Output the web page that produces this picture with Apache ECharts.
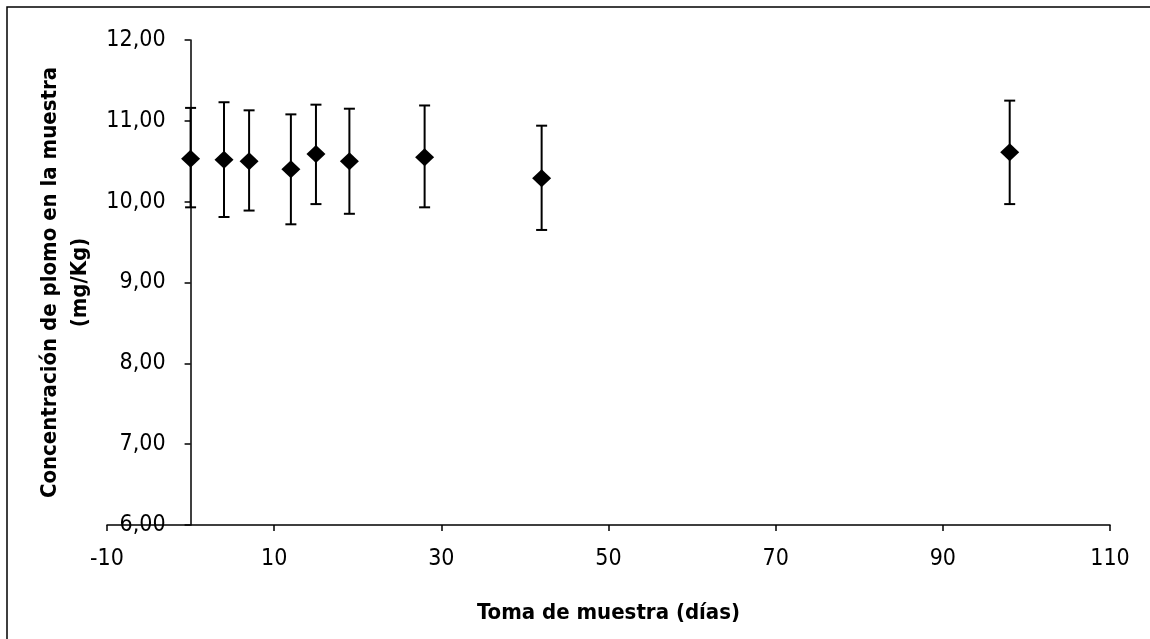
<!DOCTYPE html>
<html>
<head>
<meta charset="utf-8">
<script src="https://cdn.jsdelivr.net/npm/echarts@6/dist/echarts.min.js"></script>
<style>
html,body{margin:0;padding:0;background:#fff;}
#c{width:1150px;height:639px;}
</style>
</head>
<body>
<div id="c"></div>
<script>
// Sampling day (x), mean lead concentration (y) and error-bar limits
var days = [0, 4, 7, 12, 15, 19, 28, 42, 98];
var conc = [10.53, 10.52, 10.50, 10.40, 10.59, 10.50, 10.55, 10.29, 10.61];
var upper = [11.16, 11.23, 11.13, 11.08, 11.20, 11.15, 11.19, 10.94, 11.25];
var lower = [9.93, 9.81, 9.89, 9.72, 9.97, 9.85, 9.93, 9.65, 9.97];
var xTitle = 'Toma de muestra (días)';
var yTitle = 'Concentración de plomo en la muestra\n(mg/Kg)';

var FONT = '"Liberation Sans Narrow", "DejaVu Sans Condensed", Lato, sans-serif';

var X_MIN = -10, X_MAX = 110;
var GRID = { left: 107, right: 40, top: 40, bottom: 114 };
var W = 1150;
// y axis crosses the x axis at x = 0: shift it inward from the grid's left edge
var yOffset = -((W - GRID.left - GRID.right) * (0 - X_MIN) / (X_MAX - X_MIN));

var pts = days.map(function (d, i) { return [d, conc[i]]; });
var bars = days.map(function (d, i) { return [d, lower[i], upper[i]]; });

var chart = echarts.init(document.getElementById('c'));
chart.setOption({
  backgroundColor: '#fff',
  animation: false,
  graphic: [{
    type: 'rect',
    shape: { x: 7, y: 7, width: 1200, height: 700 },
    style: { fill: 'none', stroke: '#000', lineWidth: 1.5 },
    silent: true
  }],
  grid: { left: GRID.left, right: GRID.right, top: GRID.top, bottom: GRID.bottom, containLabel: false, outerBoundsMode: 'none' },
  xAxis: {
    type: 'value',
    min: X_MIN, max: X_MAX, interval: 20,
    splitLine: { show: false },
    axisLine: { onZero: false, lineStyle: { color: '#000', width: 1.5 } },
    axisTick: { show: true, length: 6, lineStyle: { color: '#000', width: 1.5 } },
    axisLabel: { color: '#000', fontFamily: FONT, fontSize: 23, margin: 23 },
    name: xTitle,
    nameLocation: 'middle',
    nameGap: 77,
    nameTextStyle: { color: '#000', fontFamily: FONT, fontSize: 22, fontWeight: 'bold' }
  },
  yAxis: {
    type: 'value',
    min: 6, max: 12, interval: 1,
    offset: yOffset,
    splitLine: { show: false },
    axisLine: { onZero: false, lineStyle: { color: '#000', width: 1.5 } },
    axisTick: { show: true, length: 6, lineStyle: { color: '#000', width: 1.5 } },
    axisLabel: {
      color: '#000', fontFamily: FONT, fontSize: 23, margin: 25,
      formatter: function (v) { return v.toFixed(2).replace('.', ','); }
    },
    name: yTitle,
    nameLocation: 'middle',
    nameGap: 92,
    nameTextStyle: { color: '#000', fontFamily: FONT, fontSize: 22, fontWeight: 'bold', lineHeight: 30, align: 'center' }
  },
  series: [
    {
      type: 'custom',
      silent: true,
      data: bars,
      encode: { x: 0, y: [1, 2] },
      renderItem: function (params, api) {
        var x = api.value(0);
        var lo = api.coord([x, api.value(1)]);
        var hi = api.coord([x, api.value(2)]);
        var hw = 5.5;
        var st = { stroke: '#000', lineWidth: 2, fill: 'none' };
        return {
          type: 'group',
          children: [
            { type: 'line', shape: { x1: lo[0], y1: lo[1], x2: hi[0], y2: hi[1] }, style: st },
            { type: 'line', shape: { x1: lo[0] - hw, y1: lo[1], x2: lo[0] + hw, y2: lo[1] }, style: st },
            { type: 'line', shape: { x1: hi[0] - hw, y1: hi[1], x2: hi[0] + hw, y2: hi[1] }, style: st }
          ]
        };
      },
      z: 2
    },
    {
      type: 'scatter',
      data: pts,
      symbol: 'diamond',
      symbolSize: [19, 18],
      itemStyle: { color: '#000', opacity: 1 },
      z: 3
    }
  ]
});
</script>
</body>
</html>
